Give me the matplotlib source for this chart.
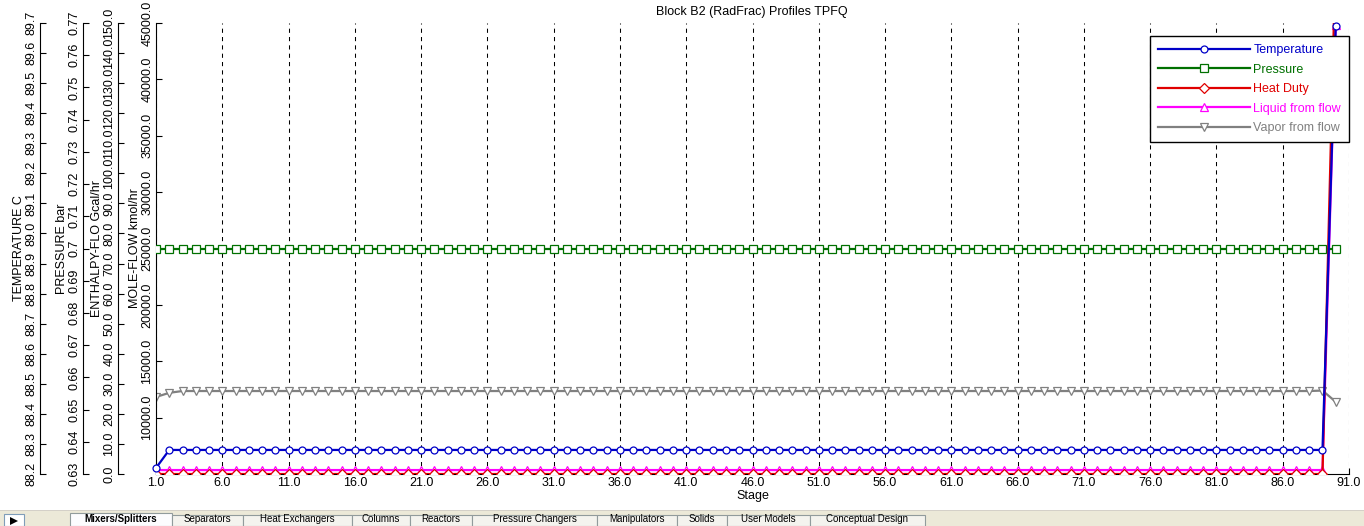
import numpy as np
import matplotlib.pyplot as plt
from matplotlib.patches import Rectangle, Polygon

plt.rcParams['font.family'] = ['Liberation Sans', 'DejaVu Sans']

# data (90 stages)
stages = list(range(1, 91))
temperature = [88.22] + [88.28] * 88 + [89.69]          # C
pressure = [0.70] * 90                                   # bar
heat_duty = [0.0] * 89 + [175.0]                         # Gcal/hr (last one off scale)
liquid_flow = [5350.0] * 89 + [44800.0]                  # kmol/hr
vapor_flow = [11830.0, 12200.0] + [12360.0] * 86 + [12400.0, 11400.0]  # kmol/hr

x_ticks = [1, 6, 11, 16, 21, 26, 31, 36, 41, 46, 51, 56, 61, 66, 71, 76, 81, 86, 91]
x_labels = ['1.0', '6.0', '11.0', '16.0', '21.0', '26.0', '31.0', '36.0', '41.0', '46.0',
            '51.0', '56.0', '61.0', '66.0', '71.0', '76.0', '81.0', '86.0', '91.0']
flow_ticks = [10000, 15000, 20000, 25000, 30000, 35000, 40000, 45000]
flow_labels = ['10000.0', '15000.0', '20000.0', '25000.0', '30000.0', '35000.0', '40000.0', '45000.0']
enth_ticks = [0, 10, 20, 30, 40, 50, 60, 70, 80, 90, 100, 110, 120, 130, 140, 150]
enth_labels = ['0.0', '10.0', '20.0', '30.0', '40.0', '50.0', '60.0', '70.0', '80.0', '90.0',
               '100.0', '110.0', '120.0', '130.0', '140.0', '150.0']
pres_ticks = [0.63, 0.64, 0.65, 0.66, 0.67, 0.68, 0.69, 0.70, 0.71, 0.72, 0.73, 0.74, 0.75, 0.76, 0.77]
pres_labels = ['0.63', '0.64', '0.65', '0.66', '0.67', '0.68', '0.69', '0.7', '0.71', '0.72',
               '0.73', '0.74', '0.75', '0.76', '0.77']
temp_ticks = [88.2, 88.3, 88.4, 88.5, 88.6, 88.7, 88.8, 88.9, 89.0, 89.1, 89.2, 89.3, 89.4, 89.5, 89.6, 89.7]
temp_labels = ['88.2', '88.3', '88.4', '88.5', '88.6', '88.7', '88.8', '88.9', '89.0', '89.1',
               '89.2', '89.3', '89.4', '89.5', '89.6', '89.7']

W, H = 1364, 526
FS = 9

fig = plt.figure(figsize=(W / 100, H / 100), dpi=100)
fig.patch.set_facecolor('white')

# main axes = MOLE-FLOW axis
ax = fig.add_axes([156 / W, 52 / H, 1193 / W, 451 / H])
ax.set_xlim(1, 91)
ax.set_ylim(5000, 45000)
ax.spines['top'].set_visible(False)
ax.spines['right'].set_visible(False)
ax.set_xticks(x_ticks, x_labels, fontsize=FS)
ax.tick_params(axis='x', direction='in', length=4, pad=2)
ax.xaxis.grid(True, color='black', linestyle=(0, (4, 4)), linewidth=0.75)
ax.set_xlabel('Stage', fontsize=FS, labelpad=1)


def setup_y(a, ticks, labels, title):
    a.set_yticks(ticks, labels, rotation=90, va='center', fontsize=FS)
    a.tick_params(axis='y', direction='in', length=4, pad=2)
    a.set_ylabel(title, fontsize=FS, labelpad=0)


def make_twin(offset):
    t = ax.twinx()
    t.spines['left'].set_position(('axes', offset))
    t.spines['left'].set_visible(True)
    for s in ['right', 'top', 'bottom']:
        t.spines[s].set_visible(False)
    t.yaxis.set_ticks_position('left')
    t.yaxis.set_label_position('left')
    return t


setup_y(ax, flow_ticks, flow_labels, 'MOLE-FLOW kmol/hr')

ax_t = make_twin((40 - 156) / 1193)
ax_t.set_ylim(88.2, 89.7)
setup_y(ax_t, temp_ticks, temp_labels, 'TEMPERATURE C')

ax_p = make_twin((83 - 156) / 1193)
ax_p.set_ylim(0.63, 0.77)
setup_y(ax_p, pres_ticks, pres_labels, 'PRESSURE bar')

ax_h = make_twin((118 - 156) / 1193)
ax_h.set_ylim(0, 150)
setup_y(ax_h, enth_ticks, enth_labels, 'ENTHALPY-FLO Gcal/hr')

# the curves
l_liq, = ax.plot(stages, liquid_flow, color='#ff00ff', lw=1.6, marker='^', ms=5.5,
                 mfc='white', mec='#ff00ff', mew=0.9, label='Liquid from flow')
l_vap, = ax.plot(stages, vapor_flow, color='#808080', lw=1.6, marker='v', ms=5.5,
                 mfc='white', mec='#808080', mew=0.9, label='Vapor from flow')
l_hd, = ax_h.plot(stages, heat_duty, color='#e00000', lw=1.6, marker='D', ms=4.8,
                  mfc='white', mec='#e00000', mew=0.9, label='Heat Duty')
l_p, = ax_p.plot(stages, pressure, color='#007000', lw=1.6, marker='s', ms=5.2,
                 mfc='white', mec='#007000', mew=0.9, label='Pressure')
l_t, = ax_t.plot(stages, temperature, color='#0000c8', lw=1.6, marker='o', ms=5.0,
                 mfc='white', mec='#0000c8', mew=0.9, label='Temperature')
l_t.set_clip_on(False)

# temperature drawn last, legend on top of everything
ax_h.set_zorder(2)
ax_t.set_zorder(3)
leg = ax_t.legend([l_t, l_p, l_hd, l_liq, l_vap],
                  ['Temperature', 'Pressure', 'Heat Duty', 'Liquid from flow', 'Vapor from flow'],
                  loc='upper right', bbox_to_anchor=(1.0, (474 - 36) / 451), borderaxespad=0,
                  fontsize=FS, labelcolor='linecolor', handlelength=7.3, handletextpad=0.3,
                  labelspacing=0.6, borderpad=0.65, fancybox=False, framealpha=1,
                  edgecolor='black')
leg.get_frame().set_linewidth(1.0)

fig.text(752 / W, 1 - 12 / H, 'Block B2 (RadFrac) Profiles TPFQ', fontsize=FS,
         ha='center', va='center')

# window tab strip at the bottom
fig.add_artist(Rectangle((0, 0), 1, 15 / H, transform=fig.transFigure,
                         fc='#ece9d8', ec='none'))
fig.add_artist(Rectangle((0, 15 / H), 1, 1 / H, transform=fig.transFigure,
                         fc='#d4d0c8', ec='none'))
fig.add_artist(Rectangle((4 / W, 0), 20 / W, 12 / H, transform=fig.transFigure,
                         fc='white', ec='#7f9db9', lw=0.8))
fig.add_artist(Polygon([[10 / W, 9 / H], [10 / W, 1 / H], [18 / W, 5 / H]],
                       closed=True, transform=fig.transFigure, fc='black', ec='none'))
tab_names = ['Mixers/Splitters', 'Separators', 'Heat Exchangers', 'Columns', 'Reactors',
             'Pressure Changers', 'Manipulators', 'Solids', 'User Models', 'Conceptual Design']
tab_edges = [70, 172, 243, 352, 410, 472, 597, 677, 727, 810, 925]
for i, name in enumerate(tab_names):
    x0, x1 = tab_edges[i], tab_edges[i + 1]
    hgt = 13 if i == 0 else 11
    fig.add_artist(Rectangle((x0 / W, 0), (x1 - x0) / W, hgt / H, transform=fig.transFigure,
                             fc='#fcfcfe' if i == 0 else '#f4f3ee', ec='#919b9c', lw=0.8))
    fig.text((x0 + x1) / 2 / W, 2 / H, name, fontsize=7, ha='center', va='bottom',
             fontweight='bold' if i == 0 else 'normal')

fig.savefig('out.png', dpi=100)
